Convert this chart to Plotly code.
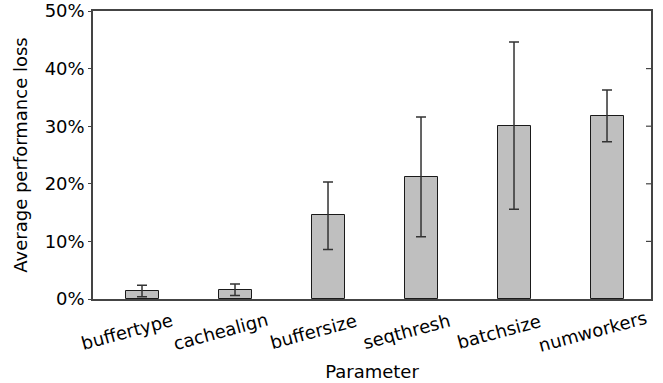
import plotly.graph_objects as go

categories = ["buffertype", "cachealign", "buffersize", "seqthresh", "batchsize", "numworkers"]
values = [1.4, 1.5, 14.5, 21.2, 30.1, 31.8]
err_plus = [1.0, 1.1, 5.8, 10.4, 14.5, 4.5]
err_minus = [1.0, 0.9, 5.9, 10.4, 14.5, 4.5]
y_ticks = [0, 10, 20, 30, 40, 50]
y_tick_labels = ["0%", "10%", "20%", "30%", "40%", "50%"]

FONT = "DejaVu Sans"
FS = 18

fig = go.Figure()
fig.add_trace(go.Bar(
    x=categories, y=values, width=0.355,
    marker=dict(color="#bfbfbf", line=dict(color="#1a1a1a", width=1)),
    error_y=dict(type="data", symmetric=False, array=err_plus, arrayminus=err_minus,
                 color="#333333", thickness=1.5, width=5),
    showlegend=False,
))

# inward ticks on the right frame edge
plot_w = 663 - 93 - 12
for t in y_ticks[1:-1]:
    fig.add_shape(type="line", xref="paper", yref="y", x0=1, x1=1 - 5 / plot_w,
                  y0=t, y1=t, line=dict(color="#444444", width=1.2))

# rotated category labels, centred like the reference
for c in categories:
    fig.add_annotation(x=c, xref="x", y=-0.112, yref="paper", text=c,
                       textangle=-15, showarrow=False, xanchor="center",
                       yanchor="middle", xshift=-15,
                       font=dict(family=FONT, size=FS, color="#000000"))

fig.update_layout(
    width=663, height=383,
    margin=dict(l=93, r=12, t=11, b=84, autoexpand=False),
    plot_bgcolor="white", paper_bgcolor="white",
    font=dict(family=FONT, size=FS, color="#000000"),
    bargap=0,
    xaxis=dict(
        range=[-0.527, 5.473], ticks="", showgrid=False, showticklabels=False,
        showline=True, linecolor="#444444", linewidth=1.5, mirror=True,
        automargin=False,
        title=dict(text="Parameter", font=dict(size=FS), standoff=66),
    ),
    yaxis=dict(
        range=[0, 50], tickvals=y_ticks, ticktext=y_tick_labels,
        ticks="outside", ticklen=3, tickcolor="#444444", showgrid=False,
        showline=True, linecolor="#444444", linewidth=1.5, mirror=True, zeroline=False,
        automargin=False,
        title=dict(text="Average performance loss", font=dict(size=FS), standoff=12),
        tickfont=dict(size=FS),
    ),
)

fig.write_html("out.html", config={"displayModeBar": False},
               post_script="document.body.style.margin='0';document.body.style.overflow='hidden';")
